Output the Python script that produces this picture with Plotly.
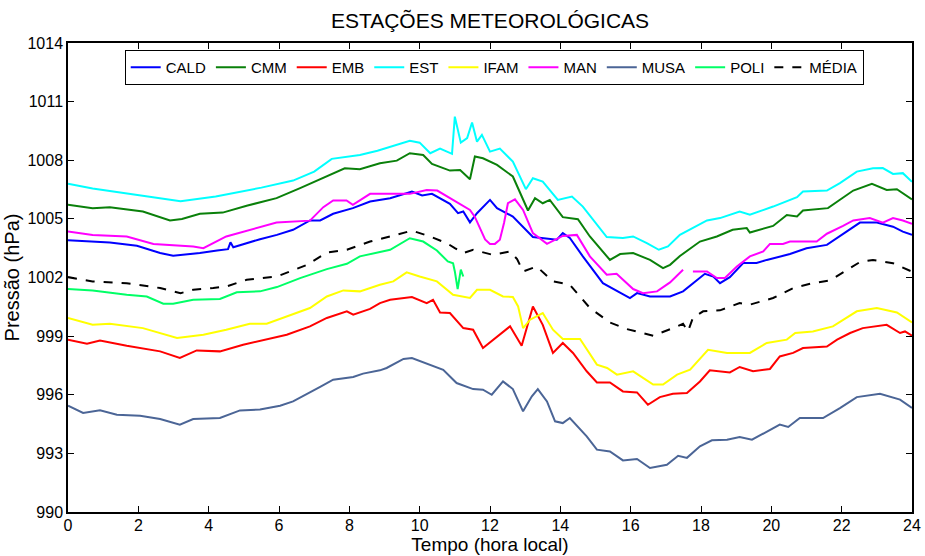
import plotly.graph_objects as go

# Pressão atmosférica (hPa) ao longo do dia, por estação
CALD_t = [0, 0.7, 1.19, 1.96, 2.62, 2.99, 3.75, 4.24, 4.55, 4.62, 4.7, 5.46, 5.94, 6.4, 6.88, 7.17, 7.54, 8.1,
          8.59, 9.16, 9.78, 10.07, 10.35, 10.86, 11.09, 11.24, 11.43, 11.63, 12.0, 12.2, 12.65, 13.22, 13.9,
          14.07, 14.27, 14.64, 15.21, 15.98, 16.18, 16.55, 17.12, 17.49, 17.88, 18.11, 18.35, 18.54, 18.82,
          19.2, 19.58, 19.87, 20.53, 21.0, 21.58, 22.52, 23.0, 23.46, 23.74, 24.0]
CALD_p = [1003.9, 1003.84, 1003.79, 1003.62, 1003.25, 1003.11, 1003.25, 1003.38, 1003.45, 1003.8, 1003.55,
          1003.96, 1004.18, 1004.44, 1004.92, 1004.92, 1005.26, 1005.55, 1005.89, 1006.06, 1006.4, 1006.2,
          1006.28, 1005.77, 1005.29, 1005.38, 1004.82, 1005.29, 1005.97, 1005.55, 1005.12, 1004.07, 1003.93,
          1004.27, 1004.02, 1003.08, 1001.71, 1000.95, 1001.2, 1001.03, 1001.03, 1001.29, 1001.88, 1002.19,
          1002.05, 1001.71, 1002.02, 1002.74, 1002.74, 1002.9, 1003.2, 1003.5, 1003.67, 1004.81, 1004.81,
          1004.6, 1004.35, 1004.18]

CMM_t = [0, 0.7, 1.19, 2.13, 2.9, 3.24, 3.75, 4.4, 5.08, 5.93, 6.6, 7.36, 7.87, 8.3, 8.87, 9.35, 9.72, 10.1,
         10.35, 10.86, 11.15, 11.43, 11.57, 11.8, 12.2, 12.65, 13.08, 13.28, 13.5, 13.7, 14.07, 14.5, 14.84,
         15.41, 15.7, 16.07, 16.55, 16.92, 17.12, 17.4, 17.97, 18.45, 18.9, 19.3, 19.39, 20.05, 20.44, 20.73,
         20.9, 21.61, 21.95, 22.33, 22.86, 23.28, 23.57, 24.0]
CMM_p = [1005.72, 1005.55, 1005.6, 1005.38, 1004.92, 1004.99, 1005.26, 1005.32, 1005.67, 1006.06, 1006.57,
         1007.2, 1007.59, 1007.54, 1007.85, 1007.98, 1008.36, 1008.27, 1007.81, 1007.47, 1007.5, 1007.03,
         1008.19, 1008.1, 1007.76, 1007.17, 1005.43, 1006.06, 1005.8, 1005.97, 1005.09, 1004.98, 1004.1,
         1002.9, 1003.2, 1003.25, 1002.9, 1002.48, 1002.65, 1003.1, 1003.84, 1004.1, 1004.44, 1004.53,
         1004.3, 1004.64, 1005.2, 1005.12, 1005.43, 1005.55, 1005.97, 1006.45, 1006.79, 1006.48, 1006.52,
         1006.0]

EMB_t = [0, 0.54, 0.91, 1.67, 2.62, 3.18, 3.66, 4.32, 4.98, 5.65, 6.22, 6.88, 7.36, 7.93, 8.11, 8.59, 8.87,
         9.16, 9.78, 10.2, 10.38, 10.58, 10.86, 11.24, 11.52, 11.8, 12.2, 12.57, 12.9, 13.22, 13.5, 13.79,
         14.07, 14.36, 14.75, 15.04, 15.41, 15.78, 16.18, 16.49, 16.83, 17.2, 17.6, 17.97, 18.25, 18.82, 19.1,
         19.48, 19.96, 20.24, 20.62, 20.9, 21.58, 21.87, 22.24, 22.6, 23.28, 23.66, 23.8, 24.0]
EMB_p = [998.82, 998.61, 998.78, 998.51, 998.22, 997.88, 998.27, 998.22, 998.56, 998.82, 999.07, 999.5,
         999.93, 1000.27, 1000.1, 1000.39, 1000.69, 1000.86, 1001.0, 1000.69, 1000.86, 1000.21, 1000.18,
         999.41, 999.33, 998.39, 998.99, 999.5, 998.51, 1000.52, 999.58, 998.14, 998.65, 998.14, 997.2,
         996.63, 996.63, 996.17, 996.12, 995.49, 995.88, 996.05, 996.09, 996.68, 997.25, 997.14, 997.42,
         997.2, 997.32, 997.96, 998.14, 998.39, 998.47, 998.82, 999.16, 999.41, 999.58, 999.16, 999.24, 999.02]

EST_t = [0, 0.7, 3.2, 4.2, 5.5, 6.4, 7.0, 7.5, 8.3, 8.8, 9.72, 10.0, 10.3, 10.58, 10.92, 11.0, 11.17, 11.35,
         11.49, 11.63, 11.77, 12.0, 12.28, 12.65, 13.02, 13.22, 13.5, 13.93, 14.33, 14.64, 15.32, 15.78, 16.07,
         16.46, 16.8, 17.06, 17.4, 18.17, 18.54, 19.1, 19.39, 20.05, 20.73, 20.9, 21.58, 21.95, 22.43, 22.89,
         23.17, 23.46, 23.74, 24.0]
EST_p = [1006.8, 1006.55, 1005.9, 1006.14, 1006.6, 1006.96, 1007.42, 1008.07, 1008.27, 1008.49, 1009.0,
         1008.9, 1008.36, 1008.6, 1008.33, 1010.23, 1008.9, 1009.13, 1009.93, 1008.95, 1009.3, 1008.44,
         1008.6, 1007.93, 1006.52, 1007.08, 1006.91, 1005.97, 1006.14, 1005.63, 1004.07, 1004.02, 1004.1,
         1003.76, 1003.42, 1003.59, 1004.18, 1004.92, 1005.04, 1005.38, 1005.21, 1005.63, 1006.11, 1006.4,
         1006.45, 1006.83, 1007.42, 1007.59, 1007.6, 1007.3, 1007.34, 1006.9]

IFAM_t = [0, 0.7, 1.19, 2.13, 3.1, 3.85, 4.5, 5.17, 5.65, 6.4, 6.88, 7.36, 7.83, 8.3, 8.87, 9.25, 9.63, 10.0,
          10.49, 10.95, 11.2, 11.43, 11.63, 12.0, 12.37, 12.65, 12.8, 12.94, 13.14, 13.5, 13.79, 14.07, 14.56,
          15.04, 15.33, 15.61, 16.07, 16.64, 16.92, 17.32, 17.69, 18.2, 18.74, 19.39, 19.87, 20.44, 20.68,
          21.18, 21.75, 22.43, 23.0, 23.57, 24.0]
IFAM_p = [999.93, 999.58, 999.63, 999.41, 998.9, 999.07, 999.33, 999.63, 999.63, 1000.1, 1000.44, 1001.03,
          1001.34, 1001.29, 1001.63, 1001.8, 1002.26, 1002.05, 1001.8, 1001.12, 1001.03, 1000.95, 1001.37,
          1001.37, 1001.03, 1001.0, 1000.52, 999.41, 999.84, 1000.18, 999.33, 998.85, 998.85, 997.54, 997.37,
          997.03, 997.2, 996.52, 996.52, 997.03, 997.28, 998.3, 998.14, 998.14, 998.65, 998.82, 999.16, 999.24,
          999.5, 1000.27, 1000.44, 1000.21, 999.7]

# MAN tem uma falha de dados perto das 17h40 (valor None)
MAN_t = [0, 0.7, 1.67, 2.43, 3.56, 3.85, 4.5, 4.98, 5.93, 6.88, 7.26, 7.54, 7.92, 8.1, 8.59, 9.72, 10.2, 10.5,
         10.95, 11.43, 11.57, 11.71, 11.86, 12.0, 12.14, 12.28, 12.4, 12.51, 12.71, 12.94, 13.22, 13.62, 14.07,
         14.47, 14.84, 15.32, 15.6, 16.07, 16.35, 16.75, 17.12, 17.49, 17.63, 17.77, 18.17, 18.45, 18.68,
         19.02, 19.39, 19.77, 19.96, 20.33, 20.53, 21.29, 21.58, 22.04, 22.33, 22.8, 23.17, 23.46, 23.74, 24.0]
MAN_p = [1004.35, 1004.18, 1004.1, 1003.72, 1003.59, 1003.5, 1004.1, 1004.35, 1004.81, 1004.91, 1005.6,
         1005.94, 1005.94, 1005.72, 1006.28, 1006.28, 1006.48, 1006.45, 1005.97, 1005.46, 1005.1, 1004.53,
         1003.95, 1003.72, 1003.72, 1003.93, 1004.8, 1005.8, 1006.0, 1005.46, 1004.27, 1003.72, 1004.13,
         1004.18, 1003.08, 1002.14, 1002.19, 1001.41, 1001.2, 1001.29, 1001.75, 1002.4, None, 1002.31,
         1002.31, 1001.97, 1001.97, 1002.56, 1003.08, 1003.33, 1003.72, 1003.72, 1003.84, 1003.84, 1004.24,
         1004.64, 1004.92, 1005.04, 1004.81, 1005.04, 1004.92, 1004.75]

MUSA_t = [0, 0.43, 0.91, 1.39, 2.05, 2.62, 3.18, 3.56, 4.32, 4.89, 5.46, 6.03, 6.4, 6.68, 7.17, 7.54, 8.11,
          8.39, 8.87, 9.06, 9.54, 9.78, 10.29, 10.67, 11.05, 11.52, 11.8, 12.05, 12.37, 12.65, 12.94, 13.19,
          13.36, 13.62, 13.85, 14.07, 14.27, 14.75, 15.04, 15.41, 15.78, 16.18, 16.55, 17.03, 17.35, 17.6,
          17.97, 18.31, 18.74, 19.1, 19.45, 19.87, 20.24, 20.48, 20.81, 21.47, 21.95, 22.43, 22.89, 23.09,
          23.66, 24.0]
MUSA_p = [995.44, 995.07, 995.2, 994.98, 994.93, 994.76, 994.47, 994.76, 994.81, 995.2, 995.24, 995.44,
          995.66, 995.92, 996.4, 996.77, 996.91, 997.08, 997.25, 997.37, 997.83, 997.88, 997.54, 997.28,
          996.6, 996.29, 996.26, 996.0, 996.68, 996.29, 995.15, 995.92, 996.29, 995.66, 994.64, 994.55,
          994.81, 993.87, 993.19, 993.1, 992.64, 992.71, 992.25, 992.42, 992.88, 992.77, 993.36, 993.67,
          993.7, 993.84, 993.7, 994.13, 994.47, 994.35, 994.81, 994.81, 995.32, 995.88, 996.0, 996.05,
          995.75, 995.32]

POLI_t = [0, 0.7, 1.67, 2.24, 2.71, 2.99, 3.56, 4.32, 4.8, 5.46, 5.94, 6.6, 7.36, 7.93, 8.3, 8.87, 9.16,
          9.72, 10.1, 10.49, 10.8, 10.95, 11.0, 11.08, 11.17, 11.24]
POLI_p = [1001.41, 1001.34, 1001.12, 1001.03, 1000.66, 1000.66, 1000.86, 1000.9, 1001.24, 1001.29, 1001.51,
          1001.97, 1002.43, 1002.7, 1003.08, 1003.33, 1003.42, 1004.01, 1003.84, 1003.38, 1002.82, 1002.73,
          1002.31, 1001.41, 1002.4, 1002.05]

MEDIA_t = [0, 0.7, 1.67, 2.62, 3.2, 3.56, 4.13, 4.5, 5.08, 5.94, 6.8, 7.36, 7.93, 8.59, 9.16, 9.78, 10.29,
           10.77, 11.0, 11.24, 11.52, 12.08, 12.57, 12.77, 12.94, 13.33, 13.79, 14.27, 14.84, 15.41, 15.89,
           16.64, 17.2, 17.49, 17.63, 17.77, 18.06, 18.54, 19.1, 19.39, 20.05, 20.62, 21.18, 21.67, 22.52,
           22.89, 23.46, 23.94, 24.0]
MEDIA_p = [1002.02, 1001.8, 1001.71, 1001.46, 1001.2, 1001.37, 1001.46, 1001.54, 1001.88, 1002.05, 1002.65,
           1003.28, 1003.42, 1003.84, 1004.1, 1004.4, 1004.1, 1003.76, 1003.5, 1003.25, 1003.42, 1003.16,
           1003.33, 1002.94, 1002.31, 1002.56, 1001.8, 1001.63, 1000.44, 999.7, 999.36, 999.02, 999.41,
           999.63, 999.24, 999.93, 1000.27, 1000.32, 1000.69, 1000.61, 1000.95, 1001.46, 1001.71, 1001.85,
           1002.79, 1002.9, 1002.73, 1002.31, 1002.3]

X_TICKS = list(range(0, 25, 2))
Y_TICKS = list(range(990, 1015, 3))

series = [
    ("CALD", CALD_t, CALD_p, "#0000ff", "solid"),
    ("CMM", CMM_t, CMM_p, "#0a800a", "solid"),
    ("EMB", EMB_t, EMB_p, "#ff0000", "solid"),
    ("EST", EST_t, EST_p, "#00ffff", "solid"),
    ("IFAM", IFAM_t, IFAM_p, "#ffff00", "solid"),
    ("MAN", MAN_t, MAN_p, "#ff00ff", "solid"),
    ("MUSA", MUSA_t, MUSA_p, "#4b6596", "solid"),
    ("POLI", POLI_t, POLI_p, "#00ff66", "solid"),
    ("MÉDIA", MEDIA_t, MEDIA_p, "#000000", "dash"),
]

FONT = "Liberation Sans, Arial, Helvetica, sans-serif"

fig = go.Figure()
for name, t, p, color, dash in series:
    fig.add_trace(go.Scatter(
        x=t, y=p, name=name, mode="lines",
        line=dict(color=color, width=2, dash=dash),
        connectgaps=False,
    ))

axis_common = dict(
    showline=True, linecolor="black", linewidth=1.5, mirror="ticks",
    ticks="inside", ticklen=6, tickcolor="black", tickwidth=1,
    showgrid=False, zeroline=False, automargin=False,
    tickfont=dict(family=FONT, size=16, color="black"),
)

fig.update_xaxes(
    range=[0, 24], tickvals=X_TICKS, ticklabelstandoff=-2,
    title=dict(text="Tempo (hora local)", font=dict(family=FONT, size=19, color="black"), standoff=0),
    **axis_common,
)
fig.update_yaxes(
    range=[990, 1014], tickvals=Y_TICKS,
    title=dict(text="Pressão (hPa)", font=dict(family=FONT, size=20, color="black"), standoff=2),
    **axis_common,
)

fig.update_layout(
    width=925, height=556,
    margin=dict(l=68, r=13, t=43, b=44),
    paper_bgcolor="white", plot_bgcolor="white",
    font=dict(family=FONT, color="black"),
    title=dict(text="ESTAÇÕES METEOROLÓGICAS", font=dict(family=FONT, size=21, color="black"),
               x=0.5, xref="paper", xanchor="center", y=0.962, yref="container", yanchor="middle"),
    legend=dict(
        orientation="h", x=0.505, xanchor="center", y=0.985, yanchor="top",
        bgcolor="white", bordercolor="black", borderwidth=1,
        font=dict(family=FONT, size=15, color="black"),
        itemwidth=30, tracegroupgap=0,
    ),
    showlegend=True,
)

fig.write_html("out.html")
